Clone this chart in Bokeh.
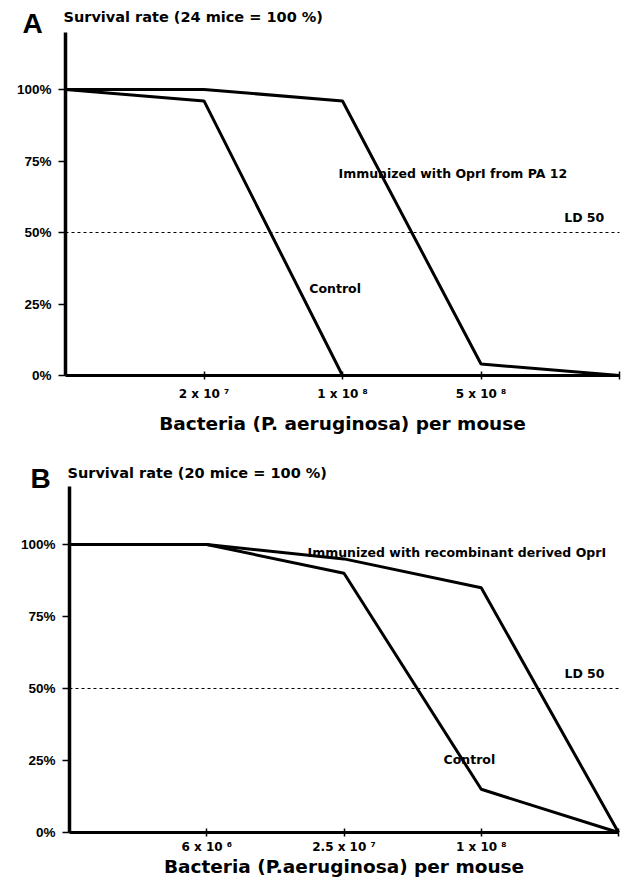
from bokeh.plotting import figure
from bokeh.layouts import column
from bokeh.models import Label, FixedTicker, Range1d
from bokeh.embed import file_html
from bokeh.resources import INLINE

# ---- data ----
doses = [0, 1, 2, 3, 4]

a_control = [100, 96, 0, 0, 0]
a_immunized = [100, 100, 96, 4, 0]
a_tick_labels = {1: "2 x 10 \u2077", 2: "1 x 10 \u2078", 3: "5 x 10 \u2078", 4: ""}

b_control = [100, 100, 90, 15, 0]
b_immunized = [100, 100, 95, 85, 0]
b_tick_labels = {1: "6 x 10 \u2076", 2: "2.5 x 10 \u2077", 3: "1 x 10 \u2078", 4: ""}

y_ticks = [0, 25, 50, 75, 100]
y_tick_labels = {0: "0%", 25: "25%", 50: "50%", 75: "75%", 100: "100%"}
y_axis_top = 120
ld50 = 50

SANS = "Liberation Sans"
WIDE = "DejaVu Sans"


def panel(letter, title, xlabel, control, immunized, tick_labels, immun_text,
          height, x_rng, y_rng, tick_standoff, letter_pos, title_pos,
          xlabel_pos, immun_pos, control_pos, ld_pos):
    p = figure(width=621, height=height, output_backend="svg", toolbar_location=None,
               x_range=Range1d(*x_rng), y_range=Range1d(*y_rng),
               min_border_left=0, min_border_right=0,
               min_border_top=0, min_border_bottom=0)
    p.outline_line_color = None
    p.grid.visible = False
    p.background_fill_color = "white"
    p.border_fill_color = "white"

    ya = p.yaxis[0]
    ya.fixed_location = 0
    ya.bounds = (0, y_axis_top)
    ya.ticker = FixedTicker(ticks=y_ticks)
    ya.major_label_overrides = y_tick_labels
    ya.axis_line_color = "black"
    ya.axis_line_width = 3.5
    ya.major_tick_in = 0
    ya.major_tick_out = 7
    ya.major_tick_line_width = 1.5
    ya.major_tick_line_color = "black"
    ya.minor_tick_line_color = None
    ya.major_label_standoff = 7
    ya.major_label_text_font = SANS
    ya.major_label_text_font_style = "bold"
    ya.major_label_text_font_size = "13.5px"
    ya.major_label_text_color = "black"

    xa = p.xaxis[0]
    xa.fixed_location = 0
    xa.bounds = (doses[0], doses[-1])
    xa.ticker = FixedTicker(ticks=doses[1:])
    xa.major_label_overrides = tick_labels
    xa.axis_line_width = 3
    xa.axis_line_color = "black"
    xa.major_tick_in = 4
    xa.major_tick_out = 4
    xa.major_tick_line_width = 1.5
    xa.major_tick_line_color = "black"
    xa.minor_tick_line_color = None
    xa.major_label_standoff = tick_standoff
    xa.major_label_text_font = WIDE
    xa.major_label_text_font_style = "bold"
    xa.major_label_text_font_size = "12px"
    xa.major_label_text_color = "black"

    # LD 50 dotted reference line across the dose axis
    p.segment(x0=[doses[0]], y0=[ld50], x1=[doses[-1]], y1=[ld50],
              line_color="black", line_width=1, line_dash="3 3")

    p.line(doses, control, line_color="black", line_width=3)
    p.line(doses, immunized, line_color="black", line_width=3)

    def lab(txt, pos, size, font=WIDE, align="left"):
        p.add_layout(Label(x=pos[0], y=pos[1], text=txt, text_font=font,
                           text_font_style="bold", text_font_size=size,
                           text_align=align, text_baseline="middle", text_color="black"))

    lab(letter, letter_pos, "28px", font=SANS)
    lab(title, title_pos, "14.5px")
    lab(xlabel, xlabel_pos, "18.5px", align="center")
    lab(immun_text, immun_pos, "12.5px")
    lab("Control", control_pos, "12.5px")
    lab("LD 50", ld_pos, "12.5px", align="right")
    return p


# panel A: x=0 at px 65, x=4 at px 619; y 0% at px 375, 100% at px 89 (2.86 px per %)
pA = panel("A", "Survival rate (24 mice = 100 %)", "Bacteria (P. aeruginosa) per mouse",
           a_control, a_immunized, a_tick_labels, "Immunized with OprI from PA 12",
           height=450, x_rng=(-65 / 138.5, 4 + 2 / 138.5),
           y_rng=(-75 / 2.86, 375 / 2.86), tick_standoff=7,
           letter_pos=(-43 / 138.5, 123.1), title_pos=(-2 / 138.5, 125.2),
           xlabel_pos=(2, -16.8),
           immun_pos=(1.971, 70.6), control_pos=(1.76, 30.4), ld_pos=(3.89, 55.2))

# panel B: x=0 at px 69, x=4 at px 618; y 0% at px 832, 100% at px 544 (2.88 px per %)
pB = panel("B", "Survival rate (20 mice = 100 %)", "Bacteria (P.aeruginosa) per mouse",
           b_control, b_immunized, b_tick_labels, "Immunized with recombinant derived OprI",
           height=440, x_rng=(-69 / 137.25, 4 + 3 / 137.25),
           y_rng=(-58 / 2.88, 382 / 2.88), tick_standoff=3,
           letter_pos=(-39 / 137.25, 122.9), title_pos=(-2 / 137.25, 125.0),
           xlabel_pos=(2, -11.8),
           immun_pos=(1.734, 97.2), control_pos=(2.725, 25.3), ld_pos=(3.898, 55.2))

layout = column(pA, pB, spacing=0)
open("out.html", "w").write(file_html(layout, INLINE))
